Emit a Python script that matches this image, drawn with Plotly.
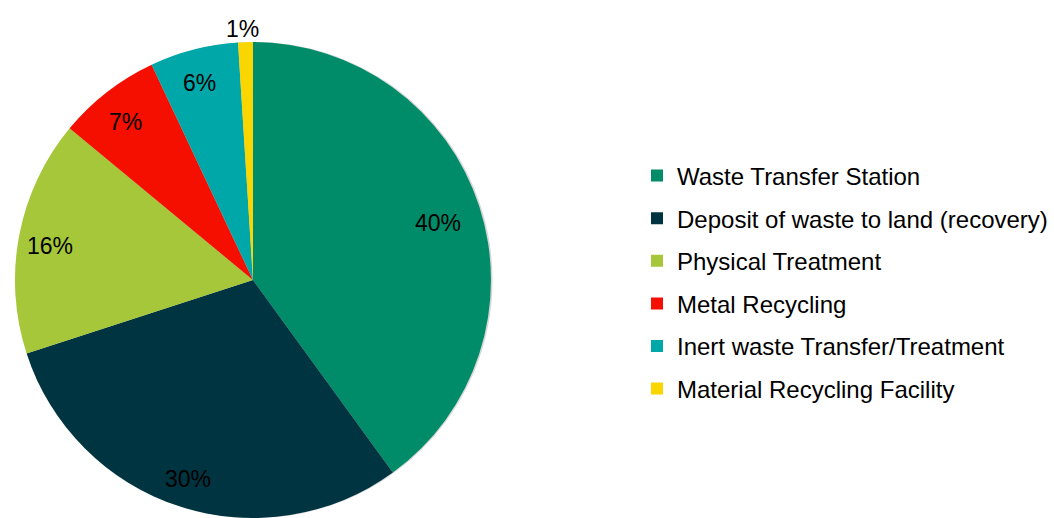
import math
import plotly.graph_objects as go

# Permitted waste sites by activity type (share of sites, %)
categories = [
    "Waste Transfer Station",
    "Deposit of waste to land (recovery)",
    "Physical Treatment",
    "Metal Recycling",
    "Inert waste Transfer/Treatment",
    "Material Recycling Facility",
]
shares = [40, 30, 16, 7, 6, 1]
colors = ["#008C68", "#003441", "#A6C73A", "#F50F00", "#00A7A9", "#F9D600"]

# radial position of each percentage label, as a fraction of the pie radius
label_radius = [0.825, 0.86, 0.86, 0.86, 0.87, 1.07]

W, H = 1054, 518
FONT = "Liberation Sans, Arial, sans-serif"
dom_x = [0.0115, 0.4685]
dom_y = [0.0, 0.9189]

fig = go.Figure()

# soft shadow along the right edge of the pie
shift = 1.6 / W
fig.add_trace(go.Pie(
    values=[1],
    marker=dict(colors=["rgba(0,0,0,0.16)"], line=dict(width=0)),
    domain=dict(x=[dom_x[0] + shift, dom_x[1] + shift], y=dom_y),
    textinfo="none", hoverinfo="skip", showlegend=False, sort=False,
))

fig.add_trace(go.Pie(
    labels=categories,
    values=shares,
    marker=dict(colors=colors, line=dict(width=0)),
    domain=dict(x=dom_x, y=dom_y),
    sort=False,
    direction="clockwise",
    rotation=0,
    textinfo="none",
    showlegend=False,
))

# percentage labels placed on each slice's bisector
px_w = (dom_x[1] - dom_x[0]) * W
px_h = (dom_y[1] - dom_y[0]) * H
radius = min(px_w, px_h) / 2
cx = (dom_x[0] + dom_x[1]) / 2 * W
cy = H - (dom_y[0] + dom_y[1]) / 2 * H
total = sum(shares)
cum = 0
for v, f in zip(shares, label_radius):
    mid = math.radians((cum + v / 2) / total * 360)
    cum += v
    x_px = cx + radius * f * math.sin(mid)
    y_px = cy - radius * f * math.cos(mid)
    fig.add_annotation(
        x=x_px / W, y=1 - y_px / H, xref="paper", yref="paper",
        text=f"{v}%", showarrow=False,
        font=dict(family=FONT, size=23, color="#000000"),
        xanchor="center", yanchor="middle", xshift=-2, yshift=-4,
    )

# legend entries, one group per category so they can be spaced apart
for name, c in zip(categories, colors):
    fig.add_trace(go.Scatter(
        x=[None], y=[None], mode="markers", name=name, legendgroup=name,
        marker=dict(symbol="square", size=12, color=c, line=dict(width=0)),
        hoverinfo="skip",
    ))

fig.update_layout(
    width=W, height=H,
    margin=dict(l=0, r=0, t=0, b=0),
    paper_bgcolor="white", plot_bgcolor="white",
    xaxis=dict(visible=False), yaxis=dict(visible=False),
    showlegend=True,
    legend=dict(
        x=637 / W, xanchor="left", y=1 - 282.5 / H, yanchor="middle",
        traceorder="grouped", tracegroupgap=8.4,
        font=dict(family=FONT, size=24, color="#000000"),
        bgcolor="rgba(0,0,0,0)",
    ),
)

fig.write_html("out.html")
